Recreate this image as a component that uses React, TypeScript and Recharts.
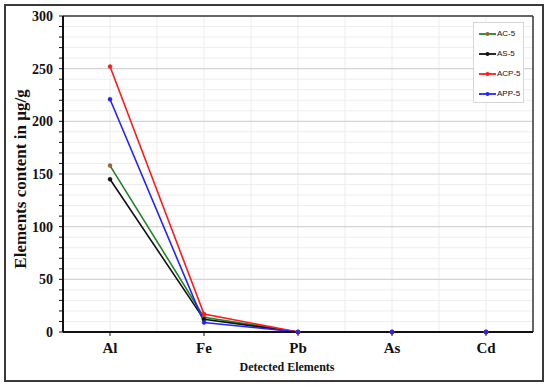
import React from "react";
import {
  LineChart,
  Line,
  XAxis,
  YAxis,
  CartesianGrid,
  Label,
} from "recharts";

const categories = ["Al", "Fe", "Pb", "As", "Cd"];
const acValues = [158, 14, 0, 0, 0];
const asValues = [145, 12, 0, 0, 0];
const acpValues = [252, 17, 0, 0, 0];
const appValues = [221, 9, 0, 0, 0];
const yTicks = [0, 10, 20, 30, 40, 50, 60, 70, 80, 90, 100, 110, 120, 130, 140, 150, 160, 170, 180, 190, 200, 210, 220, 230, 240, 250, 260, 270, 280, 290, 300];
const majorTicks = [0, 50, 100, 150, 200, 250, 300];

const seriesDefs = [
  { key: "AC-5", values: acValues, color: "#23832a", dot: "#8a6a2c" },
  { key: "AS-5", values: asValues, color: "#111111", dot: "#111111" },
  { key: "ACP-5", values: acpValues, color: "#ff1a1a", dot: "#ff1a1a" },
  { key: "APP-5", values: appValues, color: "#2323ff", dot: "#2323ff" },
];

const data = categories.map((c, i) => {
  const row: Record<string, any> = { name: c };
  seriesDefs.forEach((s) => {
    row[s.key] = s.values[i];
  });
  return row;
});

const serif = "'Liberation Serif', 'Times New Roman', serif";

const yScaleCoords = (yAxis: any, offset: any, vals: number[]) => {
  if (yAxis && typeof yAxis.scale === "function") {
    return vals.map((v) => yAxis.scale(v));
  }
  return vals.map((v) => offset.top + offset.height * (1 - v / 300));
};

const YTick = (props: any) => {
  const { x, y, payload } = props;
  if (payload.value % 50 !== 0) return null;
  return (
    <text
      x={x}
      y={y}
      dy="0.35em"
      textAnchor="end"
      fontFamily={serif}
      fontWeight="bold"
      fontSize={14}
      fill="#111"
    >
      {payload.value}
    </text>
  );
};

const LegendBox = () => (
  <div
    style={{
      position: "absolute",
      left: 473,
      top: 22,
      width: 51,
      height: 81,
      background: "#fff",
      border: "1px solid #d6d6d6",
      boxSizing: "border-box",
      paddingTop: 1,
    }}
  >
    {seriesDefs.map((s) => (
      <div
        key={s.key}
        style={{
          display: "flex",
          alignItems: "center",
          height: 20,
          paddingLeft: 5,
        }}
      >
        <svg width={17} height={6} style={{ display: "block" }}>
          <line x1={0} y1={3} x2={17} y2={3} stroke={s.color} strokeWidth={1.8} />
          <circle cx={8.5} cy={3} r={2} fill={s.dot} />
        </svg>
        <span
          style={{
            fontFamily: "'Liberation Sans', Arial, sans-serif",
            fontSize: 8,
            color: "#111",
            marginLeft: 1,
            lineHeight: "10px",
          }}
        >
          {s.key}
        </span>
      </div>
    ))}
  </div>
);

export default function App() {
  return (
    <div style={{ position: "fixed", left: 0, top: 0, width: 550, height: 389, background: "#fff" }}>
      <div
        style={{
          position: "absolute",
          left: 4,
          top: 4,
          width: 540,
          height: 378,
          border: "2px solid #3a3a3a",
          boxSizing: "border-box",
        }}
      />
      <div style={{ position: "absolute", left: 0, top: 0 }}>
        <LineChart
          width={550}
          height={389}
          data={data}
          margin={{ top: 16, right: 17, bottom: 27, left: 0 }}
        >
          <CartesianGrid
            vertical={false}
            stroke="#ededed"
            strokeWidth={1}
            horizontalCoordinatesGenerator={({ yAxis, offset }: any) =>
              yScaleCoords(yAxis, offset, yTicks.filter((v) => v % 50 !== 0))
            }
          />
          <CartesianGrid
            horizontal={false}
            stroke="#ededed"
            strokeWidth={1}
            verticalCoordinatesGenerator={({ offset }: any) =>
              [1, 2, 3, 4, 5, 6, 7, 8, 9].map((k) => offset.left + (offset.width * k) / 10)
            }
          />
          <CartesianGrid
            vertical={false}
            stroke="#d4d4d4"
            strokeWidth={1.2}
            horizontalCoordinatesGenerator={({ yAxis, offset }: any) =>
              yScaleCoords(yAxis, offset, majorTicks.slice(1, -1))
            }
          />
          <CartesianGrid
            stroke="#333"
            strokeWidth={1.5}
            horizontalCoordinatesGenerator={({ yAxis, offset }: any) =>
              yScaleCoords(yAxis, offset, [300])
            }
            verticalCoordinatesGenerator={({ offset }: any) => [offset.left + offset.width]}
          />
          <XAxis
            dataKey="name"
            padding={{ left: 47, right: 47 }}
            height={30}
            axisLine={{ stroke: "#111", strokeWidth: 2 }}
            tickLine={{ stroke: "#111", strokeWidth: 1 }}
            tickSize={4}
            tickMargin={6}
            tick={{ fontFamily: serif, fontWeight: "bold", fontSize: 15, fill: "#111" }}
          >
            <Label
              content={() => (
                <text
                  x={287}
                  y={367}
                  dy="0.35em"
                  textAnchor="middle"
                  fontFamily={serif}
                  fontWeight="bold"
                  fontSize={12}
                  fill="#111"
                >
                  Detected Elements
                </text>
              )}
            />
          </XAxis>
          <YAxis
            width={63}
            domain={[0, 300]}
            ticks={yTicks}
            interval={0}
            axisLine={{ stroke: "#111", strokeWidth: 2 }}
            tickLine={{ stroke: "#111", strokeWidth: 1 }}
            tickSize={4}
            tickMargin={6}
            tick={<YTick />}
          >
            <Label
              content={() => (
                <text
                  x={20}
                  y={179}
                  transform="rotate(-90 20 179)"
                  dy="0.35em"
                  textAnchor="middle"
                  fontFamily={serif}
                  fontWeight="bold"
                  fontSize={17}
                  fill="#111"
                >
                  Elements content in µg/g
                </text>
              )}
            />
          </YAxis>
          {seriesDefs.map((s) => (
            <Line
              key={s.key}
              type="linear"
              dataKey={s.key}
              stroke={s.color}
              strokeWidth={1.6}
              dot={{ r: 2, fill: s.dot, stroke: s.dot, strokeWidth: 0.5 }}
              activeDot={false}
              isAnimationActive={false}
            />
          ))}
        </LineChart>
      </div>
      <LegendBox />
    </div>
  );
}
